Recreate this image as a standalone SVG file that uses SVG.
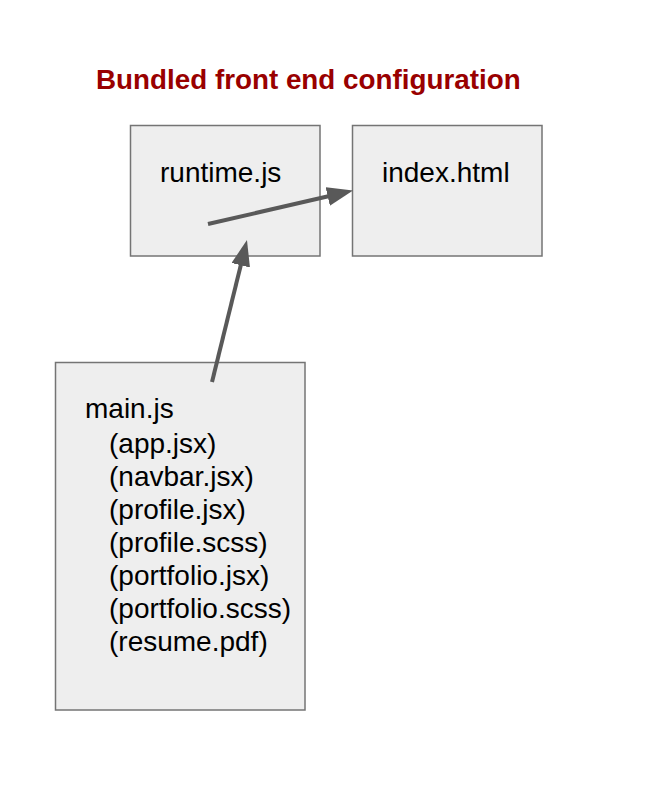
<svg xmlns="http://www.w3.org/2000/svg" width="670" height="788" viewBox="0 0 670 788">
<defs>
<style>
.box{fill:#eeeeee;stroke:#747474;stroke-width:1.5}
.lbl{font-family:"Liberation Sans",Arial,sans-serif;font-size:28px;fill:#000}
.title{font-family:"Liberation Sans",Arial,sans-serif;font-size:27.8px;font-weight:bold;fill:#990000}
.conn{stroke:#595959;stroke-width:4;fill:none}
</style>
<marker id="ah" markerUnits="userSpaceOnUse" markerWidth="26" markerHeight="20" refX="4" refY="9.5" orient="auto">
<path d="M0,0 L26,9.5 L0,19 z" fill="#595959"/>
</marker>
</defs>
<rect width="670" height="788" fill="#ffffff"/>
<text class="title" x="96" y="89">Bundled front end configuration</text>
<g id="runtime">
<rect class="box" x="130.5" y="125.5" width="189.5" height="130.5"/>
<text class="lbl" x="160" y="182">runtime.js</text>
</g>
<g id="index">
<rect class="box" x="352.5" y="125.5" width="189.5" height="130.5"/>
<text class="lbl" x="382" y="182">index.html</text>
</g>
<g id="main">
<rect class="box" x="55.5" y="362.5" width="249.5" height="347.5"/>
<text class="lbl" x="85" y="418">main.js</text>
<text class="lbl" x="109" y="453">(app.jsx)</text>
<text class="lbl" x="109" y="486">(navbar.jsx)</text>
<text class="lbl" x="109" y="519">(profile.jsx)</text>
<text class="lbl" x="109" y="552">(profile.scss)</text>
<text class="lbl" x="109" y="585">(portfolio.jsx)</text>
<text class="lbl" x="109" y="618">(portfolio.scss)</text>
<text class="lbl" x="109" y="651">(resume.pdf)</text>
</g>
<g id="connectors">
<line class="conn" x1="208" y1="224" x2="331.6" y2="195.5" marker-end="url(#ah)"/>
<line class="conn" x1="212" y1="382" x2="241.7" y2="261.4" marker-end="url(#ah)"/>
</g>
</svg>
